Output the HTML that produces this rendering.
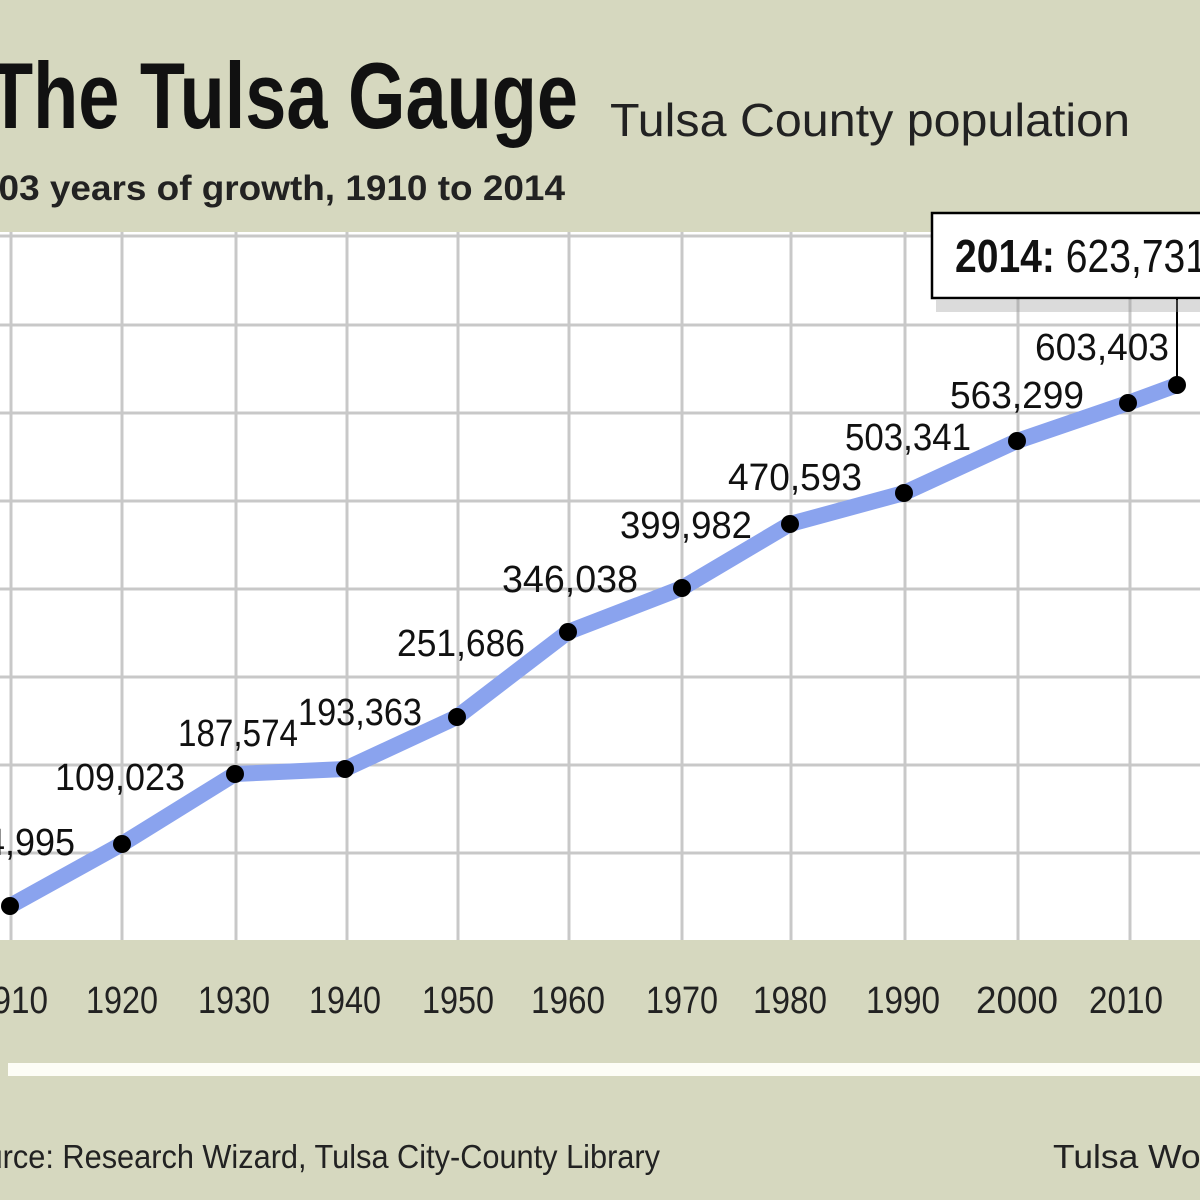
<!DOCTYPE html>
<html><head><meta charset="utf-8"><style>
html,body{margin:0;padding:0;background:#d6d8bf;}
svg{display:block;}
</style></head><body>
<svg width="1200" height="1200" viewBox="0 0 1200 1200" xmlns="http://www.w3.org/2000/svg">
<rect width="1200" height="1200" fill="#d6d8bf"/>
<rect x="0" y="232" width="1200" height="708" fill="#ffffff"/>
<g stroke="#c8c8c8" stroke-width="3">
<line x1="0" y1="236" x2="1200" y2="236"/>
<line x1="0" y1="325" x2="1200" y2="325"/>
<line x1="0" y1="413" x2="1200" y2="413"/>
<line x1="0" y1="501" x2="1200" y2="501"/>
<line x1="0" y1="589" x2="1200" y2="589"/>
<line x1="0" y1="677" x2="1200" y2="677"/>
<line x1="0" y1="765" x2="1200" y2="765"/>
<line x1="0" y1="853" x2="1200" y2="853"/>
<line x1="11" y1="232" x2="11" y2="940"/>
<line x1="122" y1="232" x2="122" y2="940"/>
<line x1="236" y1="232" x2="236" y2="940"/>
<line x1="347" y1="232" x2="347" y2="940"/>
<line x1="458" y1="232" x2="458" y2="940"/>
<line x1="569" y1="232" x2="569" y2="940"/>
<line x1="682" y1="232" x2="682" y2="940"/>
<line x1="791" y1="232" x2="791" y2="940"/>
<line x1="905" y1="232" x2="905" y2="940"/>
<line x1="1018" y1="232" x2="1018" y2="940"/>
<line x1="1130" y1="232" x2="1130" y2="940"/>
</g>
<line x1="1177" y1="298" x2="1177" y2="385" stroke="#000" stroke-width="2"/>
<rect x="936" y="300" width="270" height="12" fill="#999" opacity="0.35"/>
<rect x="932" y="213" width="275" height="85" fill="#fff" stroke="#000" stroke-width="2.5"/>
<text x="955" y="272" font-family="'Liberation Sans',sans-serif" font-size="46" fill="#111" textLength="252" lengthAdjust="spacingAndGlyphs"><tspan font-weight="bold">2014:</tspan> 623,731</text>
<polyline fill="none" stroke="#8aa3ee" stroke-width="16" stroke-linejoin="round" stroke-linecap="round"
points="10,906 122,844 235,774 345,769 457,717 568,632 682,588 790,524 904,493 1017,441 1128,403 1177,385"/>
<g fill="#000">
<circle cx="10" cy="906" r="9"/><circle cx="122" cy="844" r="9"/><circle cx="235" cy="774" r="9"/>
<circle cx="345" cy="769" r="9"/><circle cx="457" cy="717" r="9"/><circle cx="568" cy="632" r="9"/>
<circle cx="682" cy="588" r="9"/><circle cx="790" cy="524" r="9"/><circle cx="904" cy="493" r="9"/>
<circle cx="1017" cy="441" r="9"/><circle cx="1128" cy="403" r="9"/><circle cx="1177" cy="385" r="9"/>
</g>
<g font-family="'Liberation Sans',sans-serif" font-size="38" fill="#111" lengthAdjust="spacingAndGlyphs">
<text x="-35" y="855" textLength="110" lengthAdjust="spacingAndGlyphs">84,995</text>
<text x="55" y="790" textLength="130" lengthAdjust="spacingAndGlyphs">109,023</text>
<text x="178" y="746" textLength="120" lengthAdjust="spacingAndGlyphs">187,574</text>
<text x="298" y="725" textLength="124" lengthAdjust="spacingAndGlyphs">193,363</text>
<text x="397" y="656" textLength="128" lengthAdjust="spacingAndGlyphs">251,686</text>
<text x="502" y="592" textLength="136" lengthAdjust="spacingAndGlyphs">346,038</text>
<text x="620" y="538" textLength="132" lengthAdjust="spacingAndGlyphs">399,982</text>
<text x="728" y="490" textLength="134" lengthAdjust="spacingAndGlyphs">470,593</text>
<text x="845" y="450" textLength="126" lengthAdjust="spacingAndGlyphs">503,341</text>
<text x="950" y="408" textLength="134" lengthAdjust="spacingAndGlyphs">563,299</text>
<text x="1035" y="360" textLength="134" lengthAdjust="spacingAndGlyphs">603,403</text>
</g>
<g font-family="'Liberation Sans',sans-serif" font-size="38" fill="#222">
<text x="-26" y="1013" textLength="74" lengthAdjust="spacingAndGlyphs">1910</text>
<text x="86" y="1013" textLength="72" lengthAdjust="spacingAndGlyphs">1920</text>
<text x="198" y="1013" textLength="72" lengthAdjust="spacingAndGlyphs">1930</text>
<text x="309" y="1013" textLength="72" lengthAdjust="spacingAndGlyphs">1940</text>
<text x="422" y="1013" textLength="72" lengthAdjust="spacingAndGlyphs">1950</text>
<text x="531" y="1013" textLength="74" lengthAdjust="spacingAndGlyphs">1960</text>
<text x="646" y="1013" textLength="72" lengthAdjust="spacingAndGlyphs">1970</text>
<text x="753" y="1013" textLength="74" lengthAdjust="spacingAndGlyphs">1980</text>
<text x="866" y="1013" textLength="74" lengthAdjust="spacingAndGlyphs">1990</text>
<text x="976" y="1013" textLength="82" lengthAdjust="spacingAndGlyphs">2000</text>
<text x="1089" y="1013" textLength="74" lengthAdjust="spacingAndGlyphs">2010</text>
</g>
<rect x="8" y="1063" width="1192" height="13" fill="#fdfdf6"/>
<text x="-12" y="128" font-family="'Liberation Sans',sans-serif" font-weight="bold" font-size="94" fill="#111" textLength="590" lengthAdjust="spacingAndGlyphs">The Tulsa Gauge</text>
<text x="610" y="136" font-family="'Liberation Sans',sans-serif" font-size="46" fill="#222" textLength="520" lengthAdjust="spacingAndGlyphs">Tulsa County population</text>
<text x="-22" y="200" font-family="'Liberation Sans',sans-serif" font-weight="bold" font-size="35" fill="#222" textLength="587" lengthAdjust="spacingAndGlyphs">103 years of growth, 1910 to 2014</text>
<text x="-52" y="1168" font-family="'Liberation Sans',sans-serif" font-size="33" fill="#222" textLength="712" lengthAdjust="spacingAndGlyphs">Source: Research Wizard, Tulsa City-County Library</text>
<text x="1053" y="1168" font-family="'Liberation Sans',sans-serif" font-size="33" fill="#222" textLength="187" lengthAdjust="spacingAndGlyphs">Tulsa World</text>
</svg>
</body></html>
